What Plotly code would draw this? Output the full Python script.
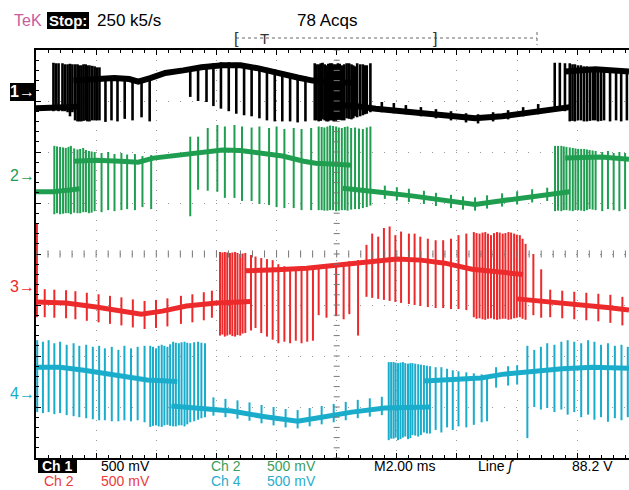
import numpy as np
import plotly.graph_objects as go

# ---------------- data (time in ms, vertical in screen divisions) ----------------
# baseline segments per channel: [times], [levels]
ch1_base = [
    ([0, 0.55, 1.2, 1.45], [2.86, 2.86, 2.88, 2.90]),
    ([1.25, 2.0, 2.6, 3.1, 3.4, 3.8, 4.3, 4.9, 5.5, 6.2, 6.8, 7.4, 8.0, 8.7, 9.2, 10.0, 10.5],
     [3.40, 3.42, 3.45, 3.43, 3.38, 3.45, 3.55, 3.60, 3.66, 3.70, 3.70, 3.64, 3.57, 3.46, 3.40, 3.38, 3.36]),
    ([10.2, 10.6, 11.3, 12.5, 13.5, 14.6, 15.5, 16.4, 17.3, 17.75],
     [2.91, 2.90, 2.85, 2.78, 2.72, 2.66, 2.70, 2.78, 2.86, 2.88]),
    ([17.6, 18.6, 19.72], [3.58, 3.62, 3.58]),
]
ch1_spk_t = [0.58, 0.75, 0.88, 1.05, 1.21, 1.38, 1.51, 1.65, 1.78, 1.95, 2.11, 2.31, 2.51, 2.71, 2.95, 3.21, 3.51, 3.78,
             5.13, 5.39, 5.67, 5.90, 6.15, 6.41, 6.66, 6.92, 7.17, 7.43, 7.68, 7.94, 8.19, 8.45, 8.70, 8.96,
             9.27, 9.40, 9.53, 9.66, 9.78, 9.90, 10.04, 10.17, 10.33, 10.49, 10.60, 10.68, 10.87, 11.00, 11.12,
             11.5, 11.9, 12.3, 12.8, 13.3, 13.8, 14.3, 14.7, 15.2, 15.7, 16.2, 16.7,
             17.25, 17.42, 17.59, 17.75, 17.92, 18.12, 18.32, 18.52, 18.69, 18.89, 19.09, 19.29, 19.46, 19.65,
             0.66, 0.96, 1.13, 1.30, 1.44, 1.58, 1.71, 1.87, 2.03,
             9.33, 9.47, 9.60, 9.72, 9.84, 9.97, 10.10, 10.25, 10.41, 10.55, 10.78, 10.94,
             17.84, 18.02, 18.22, 18.42, 18.60, 18.79]
ch1_spk_lo = [2.80, 2.80, 2.80, 2.78, 2.78, 2.60, 2.60, 2.62, 2.60, 2.62, 2.62, 2.59, 2.62, 2.60, 2.65, 2.62, 2.68, 2.60,
              3.08, 3.00, 2.98, 2.90, 2.85, 2.80, 2.75, 2.72, 2.70, 2.66, 2.62, 2.60, 2.60, 2.60, 2.58, 2.60,
              2.62, 2.60, 2.64, 2.60, 2.62, 2.60, 2.63, 2.62, 2.66, 2.64, 2.70, 2.68, 2.72, 2.75, 2.78,
              2.78, 2.76, 2.74, 2.70, 2.66, 2.62, 2.58, 2.56, 2.60, 2.64, 2.70, 2.74,
              2.84, 2.82, 2.80, 2.60, 2.60, 2.62, 2.60, 2.62, 2.60, 2.62, 2.60, 2.62, 2.60, 2.62,
              2.82, 2.80, 2.70, 2.62, 2.60, 2.61, 2.60, 2.62, 2.62,
              2.62, 2.61, 2.62, 2.60, 2.62, 2.61, 2.63, 2.62, 2.65, 2.66, 2.70, 2.74,
              2.61, 2.62, 2.60, 2.61, 2.62, 2.61]
ch1_spk_hi = [3.75, 3.74, 3.74, 3.72, 3.72, 3.72, 3.70, 3.72, 3.70, 3.68, 3.66, 3.45, 3.45, 3.45, 3.42, 3.42, 3.45, 3.47,
              3.66, 3.70, 3.72, 3.74, 3.76, 3.76, 3.75, 3.72, 3.70, 3.68, 3.65, 3.62, 3.58, 3.54, 3.50, 3.48,
              3.74, 3.72, 3.75, 3.70, 3.74, 3.72, 3.74, 3.70, 3.74, 3.72, 3.68, 3.74, 3.72, 3.70, 3.74,
              2.98, 2.96, 2.92, 2.88, 2.84, 2.80, 2.76, 2.74, 2.78, 2.82, 2.88, 2.94,
              3.75, 3.75, 3.74, 3.74, 3.72, 3.70, 3.68, 3.66, 3.64, 3.64, 3.64, 3.62, 3.62, 3.62,
              3.74, 3.72, 3.73, 3.72, 3.70, 3.72, 3.70, 3.69, 3.66,
              3.72, 3.74, 3.72, 3.73, 3.74, 3.72, 3.73, 3.72, 3.74, 3.70, 3.72, 3.70,
              3.72, 3.70, 3.68, 3.67, 3.66, 3.65]

ch2_base = [
    ([0, 0.55, 1.2, 1.45], [1.22, 1.22, 1.26, 1.28]),
    ([1.25, 2.0, 2.8, 3.4, 3.9, 4.8, 5.5, 6.2, 6.8, 7.5, 8.2, 8.9, 9.3, 10.0, 10.5],
     [1.82, 1.84, 1.82, 1.80, 1.88, 1.94, 2.00, 2.04, 2.03, 1.98, 1.92, 1.82, 1.78, 1.76, 1.74]),
    ([10.2, 10.6, 11.3, 12.5, 13.5, 14.6, 15.3, 16.2, 17.2, 17.75],
     [1.29, 1.27, 1.22, 1.14, 1.06, 0.97, 1.03, 1.10, 1.17, 1.22]),
    ([17.6, 18.8, 19.72], [1.88, 1.90, 1.86]),
]
ch2_spk_t = [0.61, 0.80, 0.99, 1.16, 1.38, 1.57, 1.76, 1.95, 2.18, 2.40, 2.61, 2.84, 3.03, 3.29, 3.54, 3.83,
             5.13, 5.39, 5.71, 6.03, 6.28, 6.60, 6.85, 7.17, 7.43, 7.75, 8.00, 8.26, 8.57, 8.83, 9.15,
             9.40, 9.59, 9.78, 9.98, 10.17, 10.36, 10.61, 10.87, 11.12,
             11.6, 12.0, 12.4, 12.9, 13.3, 13.8, 14.2, 14.6, 15.0, 15.5, 16.0, 16.5, 17.0,
             17.26, 17.47, 17.64, 17.85, 18.03, 18.23, 18.41, 18.61, 18.83, 19.02, 19.21, 19.40, 19.59,
             0.70, 0.90, 1.08, 1.27, 1.47, 1.66, 1.85,
             9.50, 9.69, 9.88, 10.07, 10.27, 10.48, 10.74, 11.00,
             17.36, 17.55, 17.75, 17.94, 18.13, 18.32, 18.51]
ch2_spk_lo = [0.78, 0.78, 0.80, 0.78, 0.80, 0.82, 0.80, 0.84, 0.82, 0.86, 0.84, 0.86, 0.88, 0.86, 0.92, 0.88,
              0.74, 1.26, 1.24, 1.22, 1.10, 1.10, 1.04, 1.04, 0.98, 0.96, 0.92, 0.90, 0.90, 0.86, 0.86,
              0.86, 0.85, 0.86, 0.84, 0.86, 0.85, 0.88, 0.90, 0.95,
              1.08, 1.05, 1.02, 0.98, 0.94, 0.90, 0.87, 0.85, 0.89, 0.93, 0.97, 1.01, 1.04,
              0.84, 0.84, 0.86, 0.84, 0.86, 0.84, 0.88, 0.86, 0.84, 0.88, 0.86, 0.84, 0.88,
              0.80, 0.79, 0.80, 0.81, 0.80, 0.82, 0.81,
              0.86, 0.85, 0.86, 0.85, 0.86, 0.87, 0.88, 0.92,
              0.85, 0.86, 0.85, 0.86, 0.85, 0.86, 0.87]
ch2_spk_hi = [2.12, 2.10, 2.08, 2.12, 2.05, 2.08, 2.02, 2.00, 1.98, 2.00, 1.96, 1.98, 1.95, 1.96, 1.92, 1.94,
              2.30, 2.30, 2.47, 2.53, 2.50, 2.53, 2.50, 2.48, 2.50, 2.47, 2.50, 2.45, 2.47, 2.45, 2.47,
              2.50, 2.48, 2.52, 2.50, 2.47, 2.50, 2.48, 2.45, 2.50,
              1.34, 1.31, 1.28, 1.24, 1.20, 1.16, 1.13, 1.11, 1.15, 1.19, 1.23, 1.27, 1.30,
              2.12, 2.12, 2.10, 2.08, 2.06, 2.06, 2.04, 2.02, 2.00, 2.02, 1.98, 2.00, 1.98,
              2.11, 2.09, 2.10, 2.07, 2.06, 2.04, 2.01,
              2.49, 2.50, 2.51, 2.48, 2.49, 2.47, 2.46, 2.48,
              2.12, 2.11, 2.09, 2.07, 2.06, 2.05, 2.03]

ch3_base = [
    ([0, 1.0, 2.0, 3.0, 3.5, 4.2, 5.0, 6.0, 7.0, 7.15],
     [-0.94, -0.96, -1.04, -1.12, -1.18, -1.12, -1.02, -0.96, -0.93, -0.93]),
    ([6.95, 7.2, 8.0, 9.0, 10.0, 11.0, 12.0, 12.8, 13.6, 14.5, 15.4, 16.2],
     [-0.33, -0.32, -0.31, -0.28, -0.22, -0.16, -0.10, -0.12, -0.18, -0.30, -0.36, -0.40]),
    ([16.0, 17.0, 18.0, 19.0, 19.72], [-0.88, -0.93, -0.99, -1.05, -1.10]),
]
ch3_spk_t = [0.03,
             0.29, 0.61, 1.00, 1.31, 1.69, 2.08, 2.46, 2.84, 3.22, 3.61, 3.99, 4.37, 4.82, 5.20, 5.58, 5.85,
             6.12, 6.28, 6.45, 6.62, 6.79, 6.96, 7.15, 7.30, 7.49, 7.68, 7.87, 8.06, 8.26, 8.45, 8.64, 8.83, 9.02, 9.21, 9.40, 9.66, 9.98, 10.23, 10.42, 10.71,
             10.99, 11.18, 11.38, 11.57, 11.76, 11.95, 12.14, 12.40, 12.59, 12.78, 13.03, 13.29, 13.54, 13.80, 14.05, 14.31,
             14.56, 14.75, 14.94, 15.13, 15.33, 15.52, 15.71, 15.90, 16.09, 16.28, 16.54, 16.80,
             17.1, 17.5, 17.9, 18.3, 18.7, 19.1, 19.5,
             6.20, 6.36, 6.53, 6.70, 6.87,
             14.65, 14.85, 15.03, 15.23, 15.42, 15.61, 15.80, 15.99, 16.18]
ch3_spk_lo = [-1.24,
              -1.24, -1.25, -1.26, -1.28, -1.31, -1.34, -1.37, -1.40, -1.44, -1.47, -1.45, -1.42, -1.37, -1.34, -1.30, -1.25,
              -1.60, -1.62, -1.58, -1.62, -1.60, -1.55, -1.50, -1.45, -1.55, -1.62, -1.68, -1.75, -1.72, -1.75, -1.70, -1.75, -1.72, -1.70, -1.20, -1.25, -1.22, -1.28, -1.18, -1.60,
              -0.84, -0.86, -0.88, -0.90, -0.92, -0.94, -0.96, -0.98, -1.00, -1.02, -1.04, -1.06, -1.06, -1.08, -1.08, -1.10,
              -1.24, -1.26, -1.29, -1.26, -1.29, -1.27, -1.29, -1.26, -1.24, -1.29, -1.20, -1.25,
              -1.24, -1.26, -1.28, -1.30, -1.32, -1.35, -1.40,
              -1.58, -1.60, -1.61, -1.59, -1.56,
              -1.27, -1.28, -1.27, -1.28, -1.28, -1.27, -1.28, -1.25, -1.27]
ch3_spk_hi = [0.61,
              -0.69, -0.70, -0.71, -0.73, -0.76, -0.79, -0.82, -0.85, -0.89, -0.92, -0.90, -0.87, -0.82, -0.79, -0.75, -0.72,
              0.04, 0.04, 0.02, 0.04, 0.00, 0.02, -0.02, -0.05, -0.08, -0.10, -0.12, -0.20, -0.24, -0.26, -0.28, -0.27, -0.25, -0.24, -0.22, -0.20, -0.18, -0.16, -0.14, -0.12,
              0.18, 0.40, 0.34, 0.51, 0.54, 0.37, 0.44, 0.40, 0.40, 0.34, 0.30, 0.27, 0.27, 0.30, 0.37, 0.40,
              0.43, 0.40, 0.43, 0.37, 0.43, 0.40, 0.43, 0.40, 0.37, 0.20, 0.00, -0.30,
              -0.70, -0.72, -0.74, -0.76, -0.78, -0.80, -0.84,
              0.03, 0.03, 0.03, 0.02, 0.01,
              0.41, 0.42, 0.40, 0.41, 0.42, 0.41, 0.42, 0.38, 0.30]

ch4_base = [
    ([0, 0.8, 1.6, 2.5, 3.3, 3.7, 4.7], [-2.22, -2.22, -2.28, -2.37, -2.45, -2.47, -2.50]),
    ([4.5, 5.5, 6.5, 7.5, 8.7, 9.5, 10.5, 11.6, 13.1],
     [-2.98, -3.02, -3.08, -3.18, -3.28, -3.20, -3.10, -3.02, -3.00]),
    ([12.9, 13.8, 14.8, 15.5, 16.5, 17.5, 18.5, 19.72],
     [-2.49, -2.46, -2.43, -2.36, -2.30, -2.25, -2.22, -2.24]),
]
ch4_spk_t = [0.04, 0.23, 0.42, 0.61, 0.80, 1.02, 1.25, 1.44, 1.67, 1.89, 2.10, 2.29, 2.52, 2.74, 2.94, 3.16, 3.38, 3.61,
             3.80, 3.99, 4.18, 4.37, 4.56, 4.75, 4.94, 5.13, 5.39, 5.62,
             5.9, 6.3, 6.7, 7.1, 7.5, 7.9, 8.3, 8.7, 9.1, 9.5, 9.9, 10.3, 10.7, 11.1, 11.5,
             11.73, 11.89, 12.04, 12.20, 12.37, 12.52, 12.71, 12.90, 13.10, 13.29, 13.48, 13.67, 13.86, 14.05, 14.31, 14.56, 14.82, 15.00,
             15.3, 15.7, 16.0,
             16.34, 16.57, 16.79, 17.00, 17.24, 17.47, 17.68, 17.90, 18.13, 18.36, 18.57, 18.79, 19.02, 19.25, 19.47, 19.68,
             3.89, 4.08, 4.27, 4.46, 4.65, 4.84, 5.03, 5.26, 5.50,
             11.81, 11.96, 12.12, 12.28, 12.45, 12.61, 12.80, 13.00]
ch4_spk_lo = [-3.10, -3.12, -3.10, -3.14, -3.12, -3.16, -3.18, -3.20, -3.22, -3.24, -3.26, -3.26, -3.28, -3.28, -3.26, -3.28, -3.26, -3.30,
              -3.39, -3.36, -3.39, -3.35, -3.38, -3.36, -3.38, -3.30, -3.25, -3.20,
              -3.17, -3.20, -3.23, -3.27, -3.32, -3.36, -3.40, -3.42, -3.38, -3.34, -3.30, -3.26, -3.22, -3.19, -3.16,
              -3.65, -3.62, -3.65, -3.60, -3.63, -3.55, -3.58, -3.50, -3.52, -3.45, -3.50, -3.40, -3.45, -3.38, -3.40, -3.35, -3.30, -3.28,
              -2.62, -2.58, -2.56,
              -3.61, -3.00, -3.05, -3.02, -3.10, -3.05, -3.15, -3.10, -3.20, -3.15, -3.25, -3.20, -3.29, -3.22, -3.26, -3.20,
              -3.37, -3.38, -3.36, -3.37, -3.38, -3.36, -3.34, -3.28, -3.22,
              -3.62, -3.60, -3.63, -3.58, -3.61, -3.56, -3.55, -3.52]
ch4_spk_hi = [-1.69, -1.72, -1.69, -1.75, -1.72, -1.78, -1.75, -1.80, -1.78, -1.82, -1.80, -1.85, -1.82, -1.88, -1.80, -1.85, -1.82, -1.80,
              -1.80, -1.85, -1.78, -1.82, -1.72, -1.75, -1.72, -1.75, -1.72, -1.75,
              -2.81, -2.84, -2.87, -2.91, -2.96, -3.00, -3.04, -3.06, -3.02, -2.98, -2.94, -2.90, -2.86, -2.83, -2.80,
              -2.12, -2.12, -2.14, -2.12, -2.15, -2.14, -2.16, -2.18, -2.20, -2.22, -2.22, -2.25, -2.28, -2.30, -2.32, -2.34, -2.36, -2.38,
              -2.22, -2.20, -2.18,
              -1.80, -1.88, -1.82, -1.75, -1.78, -1.72, -1.69, -1.72, -1.75, -1.69, -1.72, -1.78, -1.75, -1.80, -1.78, -1.82,
              -1.82, -1.80, -1.80, -1.77, -1.74, -1.73, -1.74, -1.73, -1.74,
              -2.12, -2.13, -2.13, -2.14, -2.14, -2.15, -2.17, -2.19]

ch_colors = ["#000000", "#1f9e50", "#ec2a2c", "#1aaccb"]
ch_marker_div = [3.18, 1.53, -0.63, -2.73]

T_MAX = 19.72  # visible part of the 20 ms record (2 ms/div)

# ---------------- figure ----------------
W, H = 629, 490
ML, MR, MT, MB = 36, 0, 50, 32
PW, PH = W - ML - MR, H - MT - MB


def px(x):
    return (x - ML) / PW


def py(y):
    return (H - MB - y) / PH


def spikes(t, lo, hi):
    xs, ys = [], []
    for a, b, c in zip(t, lo, hi):
        xs += [a, a, None]
        ys += [b, c, None]
    return xs, ys


fig = go.Figure()
channels = [
    (ch1_base, ch1_spk_t, ch1_spk_lo, ch1_spk_hi, 6.0, 2.6),
    (ch2_base, ch2_spk_t, ch2_spk_lo, ch2_spk_hi, 5.0, 2.0),
    (ch3_base, ch3_spk_t, ch3_spk_lo, ch3_spk_hi, 5.0, 2.0),
    (ch4_base, ch4_spk_t, ch4_spk_lo, ch4_spk_hi, 5.0, 2.0),
]
for i, (segs, st, slo, shi, bw, sw) in enumerate(channels):
    sx, sy = spikes(st, slo, shi)
    fig.add_trace(go.Scatter(x=sx, y=sy, mode="lines", line=dict(color=ch_colors[i], width=sw),
                             hoverinfo="skip", showlegend=False))
    for bt, by in segs:
        fig.add_trace(go.Scatter(x=bt, y=by, mode="lines", line=dict(color=ch_colors[i], width=bw),
                                 hoverinfo="skip", showlegend=False))

shapes = []
# centre graticule ticks
for xv in np.arange(0, T_MAX, 0.4):
    shapes.append(dict(type="line", xref="x", yref="y", x0=xv, x1=xv, y0=-0.07, y1=0.07,
                       line=dict(color="#777777", width=1)))
for yv in np.arange(-4, 4.01, 0.2):
    shapes.append(dict(type="line", xref="x", yref="y", x0=9.9, x1=10.1, y0=yv, y1=yv,
                       line=dict(color="#777777", width=1)))

# header boxes and record bar
shapes.append(dict(type="rect", xref="paper", yref="paper", x0=px(47), x1=px(89), y0=py(29), y1=py(12),
                   fillcolor="black", line=dict(width=0)))
shapes.append(dict(type="line", xref="paper", yref="paper", x0=px(236), x1=px(537), y0=py(38), y1=py(38),
                   line=dict(color="#666666", width=1, dash="dot")))
shapes.append(dict(type="line", xref="paper", yref="paper", x0=px(537), x1=px(537), y0=py(32), y1=py(45),
                   line=dict(color="#666666", width=1, dash="dot")))
# bottom Ch 1 box
shapes.append(dict(type="rect", xref="paper", yref="paper", x0=px(38), x1=px(77), y0=py(473), y1=py(459),
                   fillcolor="black", line=dict(width=0)))
# channel 1 marker box
shapes.append(dict(type="rect", xref="paper", yref="paper", x0=px(10), x1=px(34), y0=py(101), y1=py(83),
                   fillcolor="black", line=dict(width=0)))

FONT = "Liberation Sans, Arial, sans-serif"
ann = []


def text(s, x, y, color="black", size=16, xanchor="left", bold=False):
    if bold:
        s = "<b>" + s + "</b>"
    ann.append(dict(text=s, x=px(x), y=py(y), xref="paper", yref="paper", showarrow=False,
                    xanchor=xanchor, yanchor="middle", borderpad=0,
                    font=dict(family=FONT, size=size, color=color)))


text("TeK", 13, 20, color="#c85c9e", size=16)
text("Stop:", 68, 20, color="white", size=15, xanchor="center", bold=True)
text("250 k5/s", 96, 20, size=17)
text("78 Acqs", 327, 20, xanchor="center", size=17)
text("[", 236, 38, color="#333333", size=16, xanchor="center")
text("T", 264, 38, color="#333333", size=15, xanchor="center")
text("]", 435, 38, color="#333333", size=16, xanchor="center")

r1, r2 = 465.5, 481
FS = 14
text("Ch 1", 57, r1, color="white", xanchor="center", bold=True, size=FS)
text("500 mV", 100, r1, size=FS)
text("Ch 2", 210, r1, color="#3a9e5c", size=FS)
text("500 mV", 266, r1, color="#3a9e5c", size=FS)
text("M2.00 ms", 373, r1, size=FS)
text("Line <i>ʃ</i>", 477, r1, size=FS)
text("88.2 V", 571, r1, size=FS)
text("Ch 2", 43, r2, color="#ec3b3b", size=FS)
text("500 mV", 100, r2, color="#ec3b3b", size=FS)
text("Ch 4", 210, r2, color="#2aaccc", size=FS)
text("500 mV", 266, r2, color="#2aaccc", size=FS)

# channel ground markers
marker_cols = ["white", ch_colors[1], ch_colors[2], ch_colors[3]]
for i, dv in enumerate(ch_marker_div):
    ypix = MT + (4 - dv) * PH / 8
    text(f"{i + 1}→", 22, ypix, color=marker_cols[i], size=16, xanchor="center", bold=(i == 0))

fig.update_layout(
    width=W, height=H, margin=dict(l=ML, r=MR, t=MT, b=MB),
    paper_bgcolor="white", plot_bgcolor="white",
    shapes=shapes, annotations=ann, showlegend=False,
    xaxis=dict(range=[0, T_MAX], tick0=0, dtick=2, showticklabels=False, zeroline=False,
               showgrid=True, gridcolor="#9a9a9a", gridwidth=1, griddash="1px,9px",
               ticks="inside", ticklen=5, tickcolor="black",
               minor=dict(dtick=0.4, ticks="inside", ticklen=3, tickcolor="black", showgrid=False),
               showline=True, linecolor="black", linewidth=1.5, mirror="ticks", fixedrange=True),
    yaxis=dict(range=[-4, 4], tick0=0, dtick=1, showticklabels=False, zeroline=False,
               showgrid=True, gridcolor="#9a9a9a", gridwidth=1, griddash="1px,11px",
               ticks="inside", ticklen=5, tickcolor="black",
               minor=dict(dtick=0.2, ticks="inside", ticklen=3, tickcolor="black", showgrid=False),
               showline=True, linecolor="black", linewidth=1.5, mirror=False, fixedrange=True),
)

fig.write_html("out.html", config={"displayModeBar": False},
               post_script="document.body.style.margin='0';document.body.style.overflow='hidden';")
